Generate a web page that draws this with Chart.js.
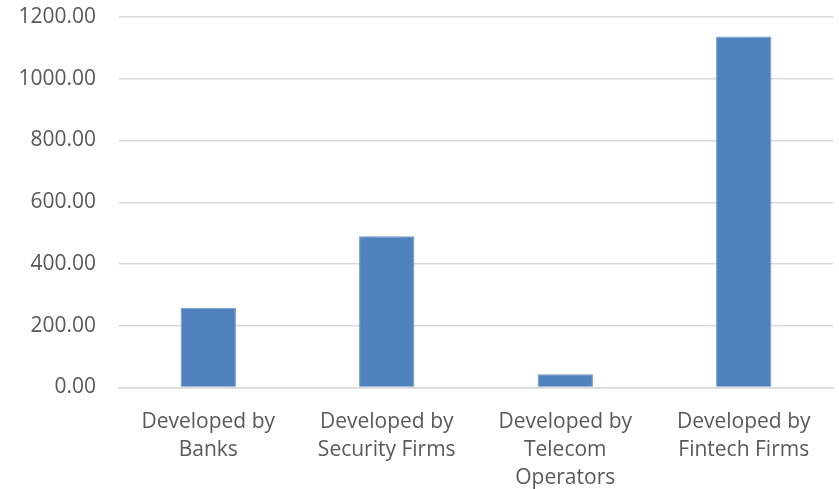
<!DOCTYPE html>
<html>
<head>
<meta charset="utf-8">
<script src="https://cdn.jsdelivr.net/npm/chart.js@4/dist/chart.umd.min.js"></script>
<style>
  html, body { margin: 0; padding: 0; background: #fff; }
  #wrap { width: 839px; height: 489px; }
</style>
</head>
<body>
<div id="wrap"><canvas id="chart" width="839" height="489"></canvas></div>
<script>
// chart data
const categories = [
  ["Developed by", "Banks"],
  ["Developed by", "Security Firms"],
  ["Developed by", "Telecom", "Operators"],
  ["Developed by", "Fintech Firms"]
];
const values = [258, 490, 43, 1137];
const yTicks = [0, 200, 400, 600, 800, 1000, 1200];

const ctx = document.getElementById("chart").getContext("2d");

new Chart(ctx, {
  type: "bar",
  data: {
    labels: categories,
    datasets: [
      {
        data: values,
        backgroundColor: "#4f81bd",
        borderColor: "#6f97cb",
        borderWidth: 1,
        barPercentage: 0.31,
        categoryPercentage: 1
      }
    ]
  },
  options: {
    responsive: false,
    animation: false,
    layout: { padding: { top: 17, right: 6, bottom: 0, left: 0 } },
    plugins: { legend: { display: false }, tooltip: { enabled: false } },
    scales: {
      x: {
        grid: { display: false, drawTicks: false },
        border: { display: true, color: "#d9d9d9", width: 1.5 },
        ticks: {
          color: "#595959",
          font: { family: "Open Sans", size: 21, lineHeight: 1.33 },
          padding: 21,
          maxRotation: 0,
          autoSkip: false
        },
        afterFit: (scale) => {
          scale.height = 101.5;
          scale.paddingLeft = 0;
          scale.paddingRight = 0;
        }
      },
      y: {
        min: 0,
        max: 1200,
        afterBuildTicks: (scale) => {
          scale.ticks = yTicks.map((v) => ({ value: v }));
        },
        grid: { color: "#d9d9d9", lineWidth: 1.5, drawTicks: false },
        border: { display: false },
        ticks: {
          color: "#595959",
          font: { family: "Open Sans", size: 21 },
          padding: 23,
          callback: (v) => Number(v).toFixed(2)
        },
        afterFit: (scale) => {
          scale.width = 119;
          scale.paddingTop = 0;
          scale.paddingBottom = 0;
        }
      }
    }
  }
});
</script>
</body>
</html>
